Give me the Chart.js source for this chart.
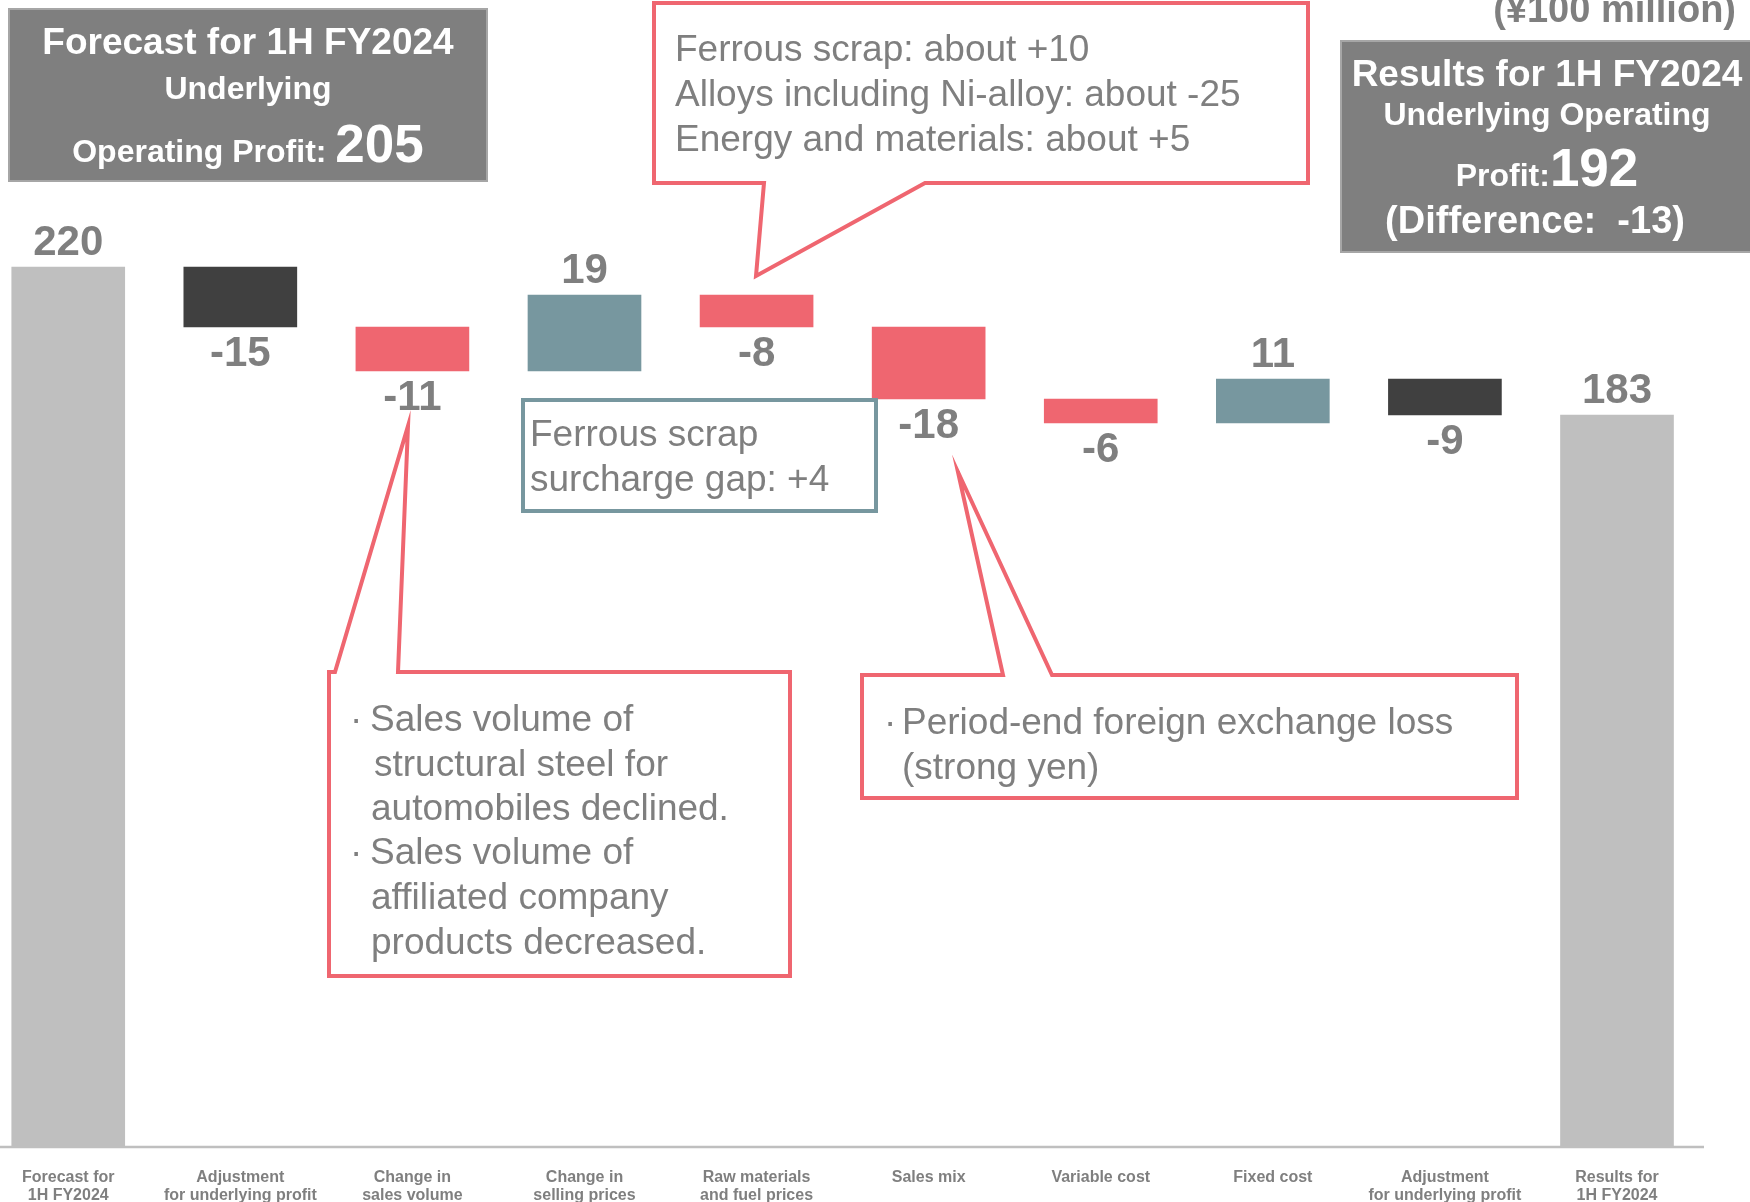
<!DOCTYPE html>
<html>
<head>
<meta charset="utf-8">
<script src="https://cdn.jsdelivr.net/npm/chart.js@4.4.0/dist/chart.umd.min.js"></script>
<style>
  html, body { margin: 0; padding: 0; background: #fff; }
  #wrap { position: relative; width: 1750px; height: 1202px; }
</style>
</head>
<body>
<div id="wrap"><canvas id="chartBridge"></canvas></div>
<script>
// --- Data (¥100 million) ---
const categories = [
    ['Forecast for', '1H FY2024'],
    ['Adjustment', 'for underlying profit'],
    ['Change in', 'sales volume'],
    ['Change in', 'selling prices'],
    ['Raw materials', 'and fuel prices'],
    ['Sales mix'],
    ['Variable cost'],
    ['Fixed cost'],
    ['Adjustment', 'for underlying profit'],
    ['Results for', '1H FY2024']
];
const changes = [220, -15, -11, 19, -8, -18, -6, 11, -9, 183];
const isTotal = [true, false, false, false, false, false, false, false, false, true];
const barColors = ['#bfbfbf', '#404040', '#ef6670', '#77979f', '#ef6670',
                   '#ef6670', '#ef6670', '#77979f', '#404040', '#bfbfbf'];

// waterfall: floating [low, high] for each step
let running = 0;
const floatingBars = changes.map((v, i) => {
    if (isTotal[i]) { running = v; return [0, v]; }
    const start = running;
    running += v;
    return [Math.min(start, running), Math.max(start, running)];
});

const RED = '#ef6670';
const TEAL = '#77979f';
const GREY_TXT = '#7f7f7f';
const SANS = '"Liberation Sans", Arial, sans-serif';

// --- Plugins ---
const baselinePlugin = {
    id: 'baseline',
    beforeDatasetsDraw(chart) {
        const { ctx, scales: { y } } = chart;
        const y0 = y.getPixelForValue(0);
        ctx.save();
        ctx.strokeStyle = '#bfbfbf';
        ctx.lineWidth = 2.5;
        ctx.beginPath();
        ctx.moveTo(0, y0);
        ctx.lineTo(1704, y0);
        ctx.stroke();
        ctx.restore();
    }
};

const valueLabelsPlugin = {
    id: 'valueLabels',
    afterDatasetsDraw(chart) {
        const { ctx } = chart;
        const meta = chart.getDatasetMeta(0);
        ctx.save();
        ctx.font = 'bold 42px ' + SANS;
        ctx.fillStyle = GREY_TXT;
        ctx.textAlign = 'center';
        ctx.textBaseline = 'middle';
        meta.data.forEach((bar, i) => {
            const { x, y, base } = bar.getProps(['x', 'y', 'base'], true);
            const top = Math.min(y, base);
            const bottom = Math.max(y, base);
            const v = changes[i];
            if (v >= 0) ctx.fillText(String(v), x, top - 24);
            else ctx.fillText(String(v), x, bottom + 27);
        });
        ctx.restore();
    }
};

// draw a line made of parts with different fonts, centred on cx
function drawParts(ctx, parts, cx, baseline) {
    let total = 0;
    parts.forEach(p => { ctx.font = p.font; p.w = ctx.measureText(p.text).width; total += p.w; });
    let x = cx - total / 2;
    ctx.textAlign = 'left';
    ctx.textBaseline = 'alphabetic';
    parts.forEach(p => { ctx.font = p.font; ctx.fillText(p.text, x, baseline); x += p.w; });
}

function polygon(ctx, pts, stroke, lw) {
    ctx.beginPath();
    ctx.moveTo(pts[0][0], pts[0][1]);
    pts.slice(1).forEach(p => ctx.lineTo(p[0], p[1]));
    ctx.closePath();
    ctx.fillStyle = '#ffffff';
    ctx.fill();
    ctx.strokeStyle = stroke;
    ctx.lineWidth = lw;
    ctx.lineJoin = 'miter';
    ctx.stroke();
}

function textLines(ctx, lines, font) {
    ctx.font = font;
    ctx.fillStyle = GREY_TXT;
    ctx.textAlign = 'left';
    ctx.textBaseline = 'alphabetic';
    lines.forEach(l => ctx.fillText(l[0], l[1], l[2]));
}

const annotationsPlugin = {
    id: 'annotations',
    afterDraw(chart) {
        const { ctx } = chart;
        ctx.save();

        // unit
        ctx.font = 'bold 38px ' + SANS;
        ctx.fillStyle = GREY_TXT;
        ctx.textAlign = 'right';
        ctx.textBaseline = 'alphabetic';
        ctx.fillText('(¥100 million)', 1736, 22);

        // forecast box
        ctx.fillStyle = '#7f7f7f';
        ctx.fillRect(9, 9, 478, 172);
        ctx.strokeStyle = '#a6a6a6';
        ctx.lineWidth = 2;
        ctx.strokeRect(9, 9, 478, 172);
        ctx.fillStyle = '#ffffff';
        drawParts(ctx, [{ text: 'Forecast for 1H FY2024', font: 'bold 37px ' + SANS }], 248, 54);
        drawParts(ctx, [{ text: 'Underlying', font: 'bold 32px ' + SANS }], 248, 99);
        drawParts(ctx, [
            { text: 'Operating Profit: ', font: 'bold 32px ' + SANS },
            { text: '205', font: 'bold 53px ' + SANS }
        ], 248, 162);

        // results box
        ctx.fillStyle = '#7f7f7f';
        ctx.fillRect(1341, 41, 420, 211);
        ctx.strokeStyle = '#a6a6a6';
        ctx.lineWidth = 2;
        ctx.strokeRect(1341, 41, 420, 211);
        ctx.fillStyle = '#ffffff';
        drawParts(ctx, [{ text: 'Results for 1H FY2024', font: 'bold 37px ' + SANS }], 1547, 86);
        drawParts(ctx, [{ text: 'Underlying Operating', font: 'bold 32px ' + SANS }], 1547, 125);
        drawParts(ctx, [
            { text: 'Profit:', font: 'bold 32px ' + SANS },
            { text: '192', font: 'bold 53px ' + SANS }
        ], 1547, 186);
        drawParts(ctx, [{ text: '(Difference:  -13)', font: 'bold 38px ' + SANS }], 1535, 233);

        // raw materials callout
        polygon(ctx, [[654, 3], [1308, 3], [1308, 183], [925, 183], [756, 276], [764, 183], [654, 183]], RED, 4);
        textLines(ctx, [
            ['Ferrous scrap: about +10', 675, 61],
            ['Alloys including Ni-alloy: about -25', 675, 106],
            ['Energy and materials: about +5', 675, 151]
        ], '37px ' + SANS);

        // surcharge box
        ctx.fillStyle = '#ffffff';
        ctx.fillRect(523, 400, 353, 111);
        ctx.strokeStyle = TEAL;
        ctx.lineWidth = 4;
        ctx.strokeRect(523, 400, 353, 111);
        textLines(ctx, [
            ['Ferrous scrap', 530, 446],
            ['surcharge gap: +4', 530, 491]
        ], '37px ' + SANS);

        // sales volume callout
        polygon(ctx, [[335, 672], [408, 426], [398, 672], [790, 672], [790, 976], [329, 976], [329, 672]], RED, 4);
        textLines(ctx, [
            ['·', 350, 731],
            ['Sales volume of', 370, 731],
            ['structural steel for', 374, 776],
            ['automobiles declined.', 371, 820],
            ['·', 350, 864],
            ['Sales volume of', 370, 864],
            ['affiliated company', 371, 909],
            ['products decreased.', 371, 954]
        ], '37px ' + SANS);

        // sales mix callout
        polygon(ctx, [[862, 675], [1003, 675], [958, 472], [1052, 675], [1517, 675], [1517, 798], [862, 798]], RED, 4);
        textLines(ctx, [
            ['·', 884, 734],
            ['Period-end foreign exchange loss', 902, 734],
            ['(strong yen)', 902, 779]
        ], '37px ' + SANS);

        ctx.restore();
    }
};

// --- Chart ---
new Chart(document.getElementById('chartBridge'), {
    type: 'bar',
    data: {
        labels: categories,
        datasets: [{
            data: floatingBars,
            backgroundColor: barColors,
            borderWidth: 0,
            barThickness: 113,
            clip: false
        }]
    },
    options: {
        responsive: true,
        maintainAspectRatio: false,
        animation: false,
        layout: { padding: { left: 68, right: 133, top: 27, bottom: 0 } },
        plugins: { legend: { display: false }, tooltip: { enabled: false } },
        scales: {
            x: {
                offset: false,
                grid: { display: false, drawTicks: false },
                border: { display: false },
                ticks: {
                    autoSkip: false,
                    maxRotation: 0,
                    minRotation: 0,
                    padding: 22,
                    color: GREY_TXT,
                    font: { family: '"Liberation Sans Narrow", "Liberation Sans", Arial, sans-serif', size: 16, weight: 'bold', lineHeight: 18 / 16 }
                },
                afterFit: (scale) => { scale.height = 55; }
            },
            y: { display: false, min: 0, max: 280 }
        }
    },
    plugins: [baselinePlugin, valueLabelsPlugin, annotationsPlugin]
});
</script>
</body>
</html>
